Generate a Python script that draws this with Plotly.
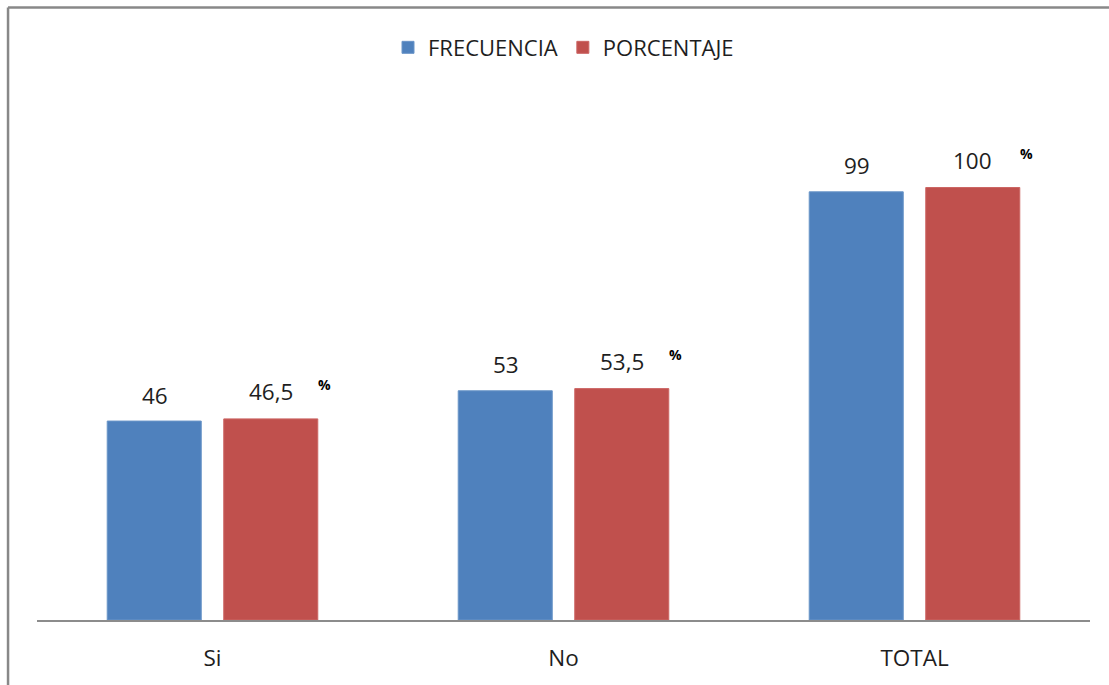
import plotly.graph_objects as go

categories = ["Si", "No", "TOTAL"]
frecuencia = [46, 53, 99]
porcentaje = [46.5, 53.5, 100]
frecuencia_labels = ["46", "53", "99"]
porcentaje_labels = ["46,5", "53,5", "100"]

BLUE = "#4F81BD"
RED = "#C0504D"
TEXT = "#1E1E1E"
FONT = "Open Sans, sans-serif"

fig = go.Figure()
fig.add_bar(x=categories, y=frecuencia, name="FRECUENCIA", marker_color=BLUE,
            marker_line=dict(color="#6A95C8", width=1))
fig.add_bar(x=categories, y=porcentaje, name="PORCENTAJE", marker_color=RED,
            marker_line=dict(color="#CC6664", width=1))

for c, v, t in zip(categories, frecuencia, frecuencia_labels):
    fig.add_annotation(x=c, y=v, text=t, showarrow=False, xshift=-58, yshift=26,
                       yanchor="middle", font=dict(size=22.5, color=TEXT))
for c, v, t in zip(categories, porcentaje, porcentaje_labels):
    fig.add_annotation(x=c, y=v, text=t, showarrow=False, xshift=58, yshift=27,
                       yanchor="middle", font=dict(size=22.5, color=TEXT))
    fig.add_annotation(x=c, y=v, text="<b>%</b>", showarrow=False, xshift=112, yshift=34,
                       yanchor="middle", font=dict(size=14, color="#000000"))

# outer chart frame: only its top and left edges are in view
frame = dict(color="#888888", width=2.5)
fig.add_shape(type="line", xref="paper", yref="paper", x0=-0.0275, x1=1.1, y0=1.18, y1=1.18,
              line=frame)
fig.add_shape(type="line", xref="paper", yref="paper", x0=-0.0275, x1=-0.0275, y0=-0.2, y1=1.18,
              line=frame)

fig.update_layout(
    width=1109, height=685,
    margin=dict(l=37, r=19, t=101, b=62),
    paper_bgcolor="white", plot_bgcolor="white",
    barmode="group", bargap=0.336, bargroupgap=0.193,
    font=dict(family=FONT, color=TEXT),
    showlegend=True,
    legend=dict(orientation="h", x=0.5, xanchor="center", y=1.103, yanchor="middle",
                font=dict(size=22, color=TEXT), itemwidth=30, traceorder="normal"),
    xaxis=dict(showline=True, linecolor="#8C8C8C", linewidth=1.5, ticks="",
               tickfont=dict(size=22.5, color=TEXT), showgrid=False, range=[-0.5, 2.5],
               ticklabelstandoff=17),
    yaxis=dict(visible=False, range=[0, 120], showgrid=False, zeroline=False),
)

fig.write_html("out.html", config={"displayModeBar": False},
               post_script="document.body.style.margin='0';"
                           "document.body.style.overflow='hidden';")
